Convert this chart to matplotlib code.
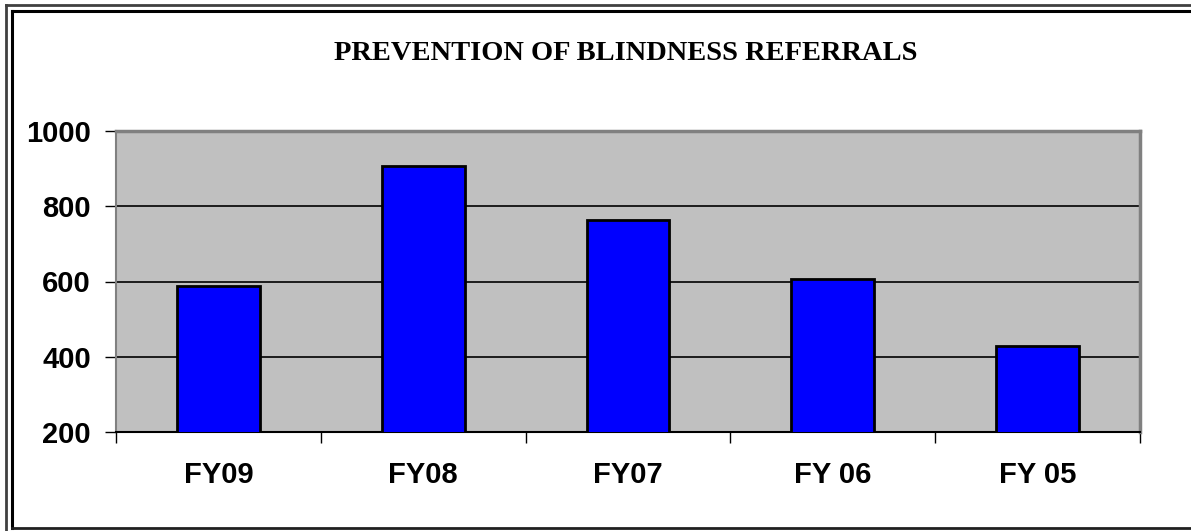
import numpy as np
import matplotlib.pyplot as plt
from matplotlib.lines import Line2D

categories = ["FY09", "FY08", "FY07", "FY 06", "FY 05"]
referrals = [587, 908, 763, 606, 428]
yticks = [200, 400, 600, 800, 1000]

fig = plt.figure(figsize=(11.91, 5.31), dpi=100)
ax = fig.add_axes([116/1191, 1 - 432/531, (1140 - 116)/1191, (432 - 131)/531])

x = np.arange(len(categories))
ax.bar(x, referrals, width=0.405, bottom=0, color='#0000FF', edgecolor='black',
       linewidth=2, zorder=3)

ax.set_facecolor('#C0C0C0')
ax.set_xlim(-0.5, len(categories) - 0.5)
ax.set_ylim(200, 1000)
ax.set_yticks(yticks)
ax.set_yticklabels([str(v) for v in yticks], fontsize=21, fontweight='bold',
                   family='Liberation Sans')
ax.yaxis.grid(True, color='black', linewidth=1.2, zorder=1)
ax.set_axisbelow(True)

# category labels centred, tick marks at category boundaries
ax.set_xticks(np.arange(len(categories) + 1) - 0.5)
ax.set_xticklabels([])
ax.set_xticks(x, minor=True)
ax.set_xticklabels(categories, minor=True, fontsize=21, fontweight='bold',
                   family='Liberation Sans')
ax.tick_params(axis='x', which='minor', length=0, pad=21)
ax.tick_params(axis='x', which='major', length=8, width=1, color='black', direction='out')
ax.tick_params(axis='y', length=8, width=1, direction='out', pad=10)

for side in ['top', 'right']:
    ax.spines[side].set_color('#808080')
    ax.spines[side].set_linewidth(2.5)
ax.spines['left'].set_color('#808080')
ax.spines['left'].set_linewidth(1.5)
ax.spines['bottom'].set_color('black')
ax.spines['bottom'].set_linewidth(1.5)

fig.text(626/1191, 1 - 54/531, "PREVENTION OF BLINDNESS REFERRALS", ha='center', va='center',
         fontsize=20.5, fontweight='bold', family='Liberation Serif')

# double frame around the chart
W, H = 1191, 531
def fl(x0, y0, x1, y1, lw, c):
    fig.add_artist(Line2D([x0/W, x1/W], [1 - y0/H, 1 - y1/H], linewidth=lw, color=c,
                          transform=fig.transFigure))
fl(6, 5, 6, 531, 2, '#404040')
fl(6, 5, 1191, 5, 2, '#404040')
fl(11.5, 11, 11.5, 528, 2.2, 'black')
fl(11.5, 11, 1191, 11, 2.2, 'black')
fl(11.5, 528, 1191, 528, 2, '#202020')

fig.savefig("out.png", dpi=100)
